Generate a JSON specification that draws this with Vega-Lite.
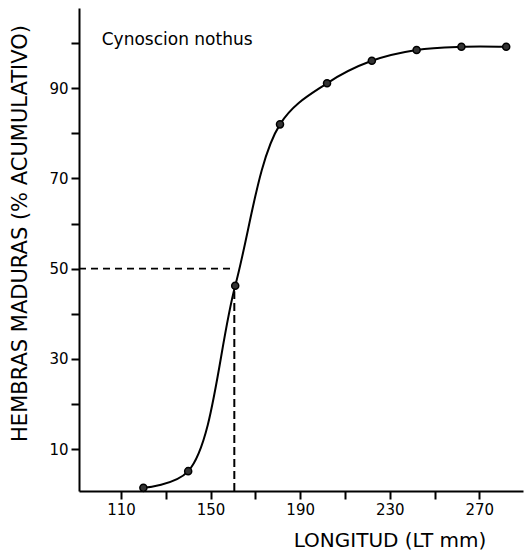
{
  "$schema": "https://vega.github.io/schema/vega-lite/v6.json",
  "width": 444,
  "height": 483,
  "autosize": "none",
  "padding": {"left": 79, "top": 8, "right": 3, "bottom": 61},
  "background": "white",
  "config": {
    "view": {"stroke": null},
    "font": "DejaVu Sans",
    "axis": {
      "domainColor": "black",
      "domainWidth": 2,
      "tickColor": "black",
      "tickWidth": 2,
      "tickSize": 8,
      "labelColor": "black",
      "labelFont": "DejaVu Sans",
      "labelFontSize": 15,
      "labelPadding": 3,
      "grid": false,
      "titleColor": "black",
      "titleFont": "DejaVu Sans",
      "titleFontWeight": "normal"
    }
  },
  "datasets": {
    "puntos": [
      {"longitud": 120, "pct": 1.4},
      {"longitud": 140, "pct": 5.1},
      {"longitud": 161, "pct": 46.2},
      {"longitud": 181, "pct": 82.0},
      {"longitud": 202, "pct": 91.1},
      {"longitud": 222, "pct": 96.1},
      {"longitud": 242, "pct": 98.5},
      {"longitud": 262, "pct": 99.2},
      {"longitud": 282, "pct": 99.2}
    ],
    "h50": [{"x": 91.25, "x2": 160.3, "y": 50}],
    "v50": [{"x": 160.6, "y": 0.7, "y2": 45}],
    "etiqueta": [{"x": 101.4, "y": 99.6, "texto": "Cynoscion nothus"}]
  },
  "layer": [
    {
      "data": {"name": "h50"},
      "mark": {"type": "rule", "color": "black", "strokeWidth": 1.6, "strokeDash": [7, 5]},
      "encoding": {
        "x": {"field": "x", "type": "quantitative", "scale": {"domain": [91.25, 289.5], "nice": false, "zero": false},
          "axis": {
            "values": [110, 130, 150, 170, 190, 210, 230, 250, 270],
            "labelExpr": "(datum.value - 110) % 40 == 0 ? datum.label : ''",
            "title": "LONGITUD (LT mm)",
            "titleFontSize": 20,
            "titleAngle": 0,
            "titleAlign": "center",
            "titleBaseline": "middle",
            "titleX": 310.5,
            "titleY": 49
          }},
        "x2": {"field": "x2"},
        "y": {"field": "y", "type": "quantitative", "scale": {"domain": [0.7, 107.8], "nice": false, "zero": false},
          "axis": {
            "values": [10, 20, 30, 40, 50, 60, 70, 80, 90, 100],
            "labelExpr": "datum.value % 20 == 10 ? datum.label : ''",
            "title": "HEMBRAS MADURAS (% ACUMULATIVO)",
            "titleFontSize": 21,
            "titleAngle": 270,
            "titleAlign": "center",
            "titleBaseline": "middle",
            "titleX": -59,
            "titleY": 225
          }}
      }
    },
    {
      "data": {"name": "v50"},
      "mark": {"type": "rule", "color": "black", "strokeWidth": 2, "strokeDash": [8, 4]},
      "encoding": {
        "x": {"field": "x", "type": "quantitative"},
        "y": {"field": "y", "type": "quantitative"},
        "y2": {"field": "y2"}
      }
    },
    {
      "data": {"name": "puntos"},
      "mark": {"type": "line", "color": "black", "strokeWidth": 2, "interpolate": "catmull-rom"},
      "encoding": {
        "x": {"field": "longitud", "type": "quantitative"},
        "y": {"field": "pct", "type": "quantitative"}
      }
    },
    {
      "data": {"name": "puntos"},
      "mark": {"type": "point", "filled": true, "fill": "#333333", "stroke": "black", "strokeWidth": 1.5, "size": 50, "opacity": 1},
      "encoding": {
        "x": {"field": "longitud", "type": "quantitative"},
        "y": {"field": "pct", "type": "quantitative"}
      }
    },
    {
      "data": {"name": "etiqueta"},
      "mark": {"type": "text", "align": "left", "baseline": "alphabetic", "font": "DejaVu Sans", "fontSize": 17, "color": "black"},
      "encoding": {
        "x": {"field": "x", "type": "quantitative"},
        "y": {"field": "y", "type": "quantitative"},
        "text": {"field": "texto"}
      }
    }
  ]
}
